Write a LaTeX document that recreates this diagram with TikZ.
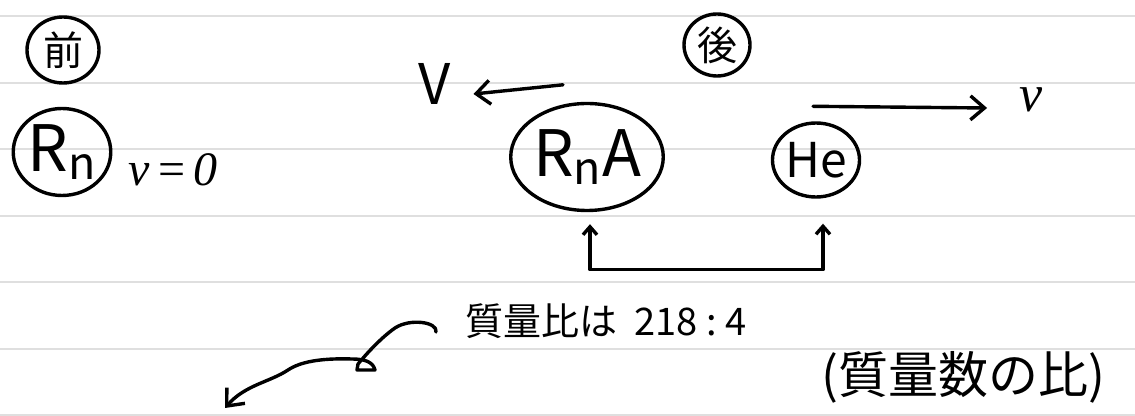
\documentclass[tikz,border=0pt]{standalone}
\usepackage{fontspec}
\setmainfont{Noto Sans CJK JP}
\newfontfamily\velfont{Liberation Serif}
\usetikzlibrary{arrows.meta,positioning,shapes.geometric}

\begin{document}
\begin{tikzpicture}[
  x=0.5pt, y=-0.5pt,
  ink/.style={line width=1.7pt, line cap=round, line join=round},
  ring/.style={draw, ellipse, ink, inner sep=0pt},
  arr/.style={ink, -{Straight Barb[length=7pt, width=12pt]}},
  tick/.style={ink, {Straight Barb[length=4pt, width=7pt]}-{Straight Barb[length=4pt, width=7pt]}},
  rule/.style={gray!25, line width=1pt},
  hand/.style={inner sep=0pt, font=\fontsize{#1}{#1}\selectfont},
  vel/.style={inner sep=0pt, font=\fontsize{#1}{#1}\velfont\itshape}
]

% Ruled paper
\useasboundingbox (0,0) rectangle (1135,416);
\foreach \y in {16.5,83,149.5,216,282.5,349,415.5}
  \draw[rule] (0,\y) -- (1135,\y);

% Before
\node[ring, minimum width=36pt, minimum height=33pt, hand=20] (mae) at (63,50) {前};
\node[ring, minimum width=48.5pt, minimum height=43.5pt, hand=32] (rn) at (62,152) {R\textsubscript{n}};
\node[vel=24, right=8pt of rn, yshift=-9pt] (vzero) {v\,{\upshape=}\,0};

% After
\node[ring, minimum width=33pt, minimum height=31pt, hand=20] (ato) at (717,45) {後};
\node[ring, minimum width=66.5pt, minimum height=53.5pt, hand=32] (rna) at (587,157) {R\textsubscript{n}A};
\node[ring, minimum width=39pt, minimum height=37pt, hand=24] (he) at (816,160) {He};

% Velocities
\node[hand=28] (bigv) at (435,84) {V};
\node[vel=26] (vhe) at (1031,100) {v};
\draw[arr] ([shift={(-24,-17)}]rna.north) -- ([shift={(22,10)}]bigv.east);
\draw[arr] ([shift={(-3,-15)}]he.north) -- ([shift={(-32,8)}]vhe.west);

% Mass ratio
\draw[tick] ([shift={(3,12)}]rna.south) |- ([shift={(7,71)}]he.south) -- ([shift={(7,25)}]he.south);
\node[hand=19] (ratio) at (606,321) {質量比は~~218~:~4};
\node[hand=25] (massnum) at (963,377) {(質量数の比)};

% Pointer
\coordinate (curvestart) at (436,332);
\coordinate (pointer) at (225,408);
\draw[arr] (curvestart) .. controls (438,322) and (410,318) .. (395,328)
  .. controls (382,337) and (368,352) .. (358,364) -- (357,370) -- (375,370)
  .. controls (373,362) and (365,359) .. (352,359)
  .. controls (320,358) and (300,362) .. (288,370)
  .. controls (270,382) and (245,385) .. (pointer);

\end{tikzpicture}
\end{document}
